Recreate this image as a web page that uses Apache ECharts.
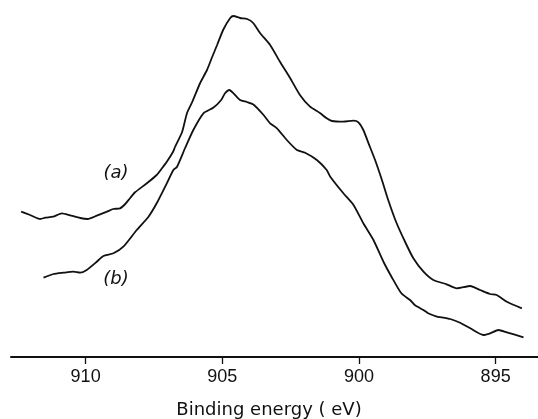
<!DOCTYPE html>
<html>
<head>
<meta charset="utf-8">
<script src="https://cdn.jsdelivr.net/npm/echarts@6/dist/echarts.min.js"></script>
<style>html,body{margin:0;padding:0;background:#fff}#c{width:538px;height:419px}</style>
</head>
<body>
<div id="c"></div>
<script>
// Binding energy (eV) and intensity (arbitrary units)
var energyA = [912.36,912.03,911.66,911.48,911.19,910.87,910.57,910.20,909.93,909.59,909.22,908.99,908.74,908.55,908.37,908.19,907.76,907.40,907.20,907.03,906.80,906.73,906.47,906.29,906.10,905.81,905.56,905.37,905.19,904.97,904.71,904.59,904.35,904.09,903.87,903.62,903.25,902.89,902.52,902.16,901.79,901.43,901.18,900.99,900.57,900.20,900.02,899.84,899.65,899.41,899.16,898.93,898.64,898.31,898.01,897.64,897.28,896.79,896.42,895.93,895.57,895.20,894.96,894.59,894.04];
var intensityA = [145.3,142,138,139.3,140.3,143.7,141.7,139,138,141.3,145.3,148,148.7,153,159,164.7,173.7,182,189,195.3,205.3,210,225,244,255,274,287,300,312,327,339,341,339,338,334,324,312,295.3,279,262,250.3,244,238.7,236,235.3,236.3,234.7,227,213.7,197,177,157,135,115,98.7,85.3,77,72.7,68.7,71,67,63,62,55.3,48.7];
var energyB = [911.54,911.18,910.81,910.45,910.20,909.96,909.59,909.35,908.98,908.62,908.13,907.70,907.40,907.03,906.79,906.66,906.36,906.06,905.69,905.32,905.04,904.90,904.74,904.59,904.35,904.10,903.86,903.49,903.25,903.00,902.64,902.27,901.97,901.54,901.18,901.05,900.57,900.20,899.84,899.47,899.10,898.81,898.45,898.13,897.96,897.64,897.47,897.15,896.98,896.66,896.30,895.93,895.45,895.20,894.90,894.59,893.98];
var intensityB = [79.3,83,84.3,85.3,84.3,87,95.3,101,103.7,110.3,127,140.3,153.7,173.7,187,190,209,227,243.7,249.5,257,263.7,267,263.7,257,255,252.5,242,233.7,228.7,217,207,204.3,197,187,180.3,163.7,152,133.7,117,95,80.3,63.7,57,52,47,43.7,40.3,39.7,38,34.3,28.7,22,23.7,27,24.7,19.7];
var tickValues = [910, 905, 900, 895];
var axisTitle = 'Binding energy ( eV)';
var curveLabels = ['(a)', '(b)'];

function pairs(xs, ys) { return xs.map(function (x, i) { return [x, ys[i]]; }); }

var chart = echarts.init(document.getElementById('c'), null, {renderer: 'canvas'});
chart.setOption({
  animation: false,
  backgroundColor: '#fff',
  grid: {left: 11, right: 0, top: 0, bottom: 62},
  xAxis: {
    type: 'value', min: 893.45, max: 912.73, inverse: true,
    axisLine: {show: true, lineStyle: {color: '#111', width: 2}},
    axisTick: {show: true, inside: false, length: 7, lineStyle: {color: '#111', width: 1.3}, customValues: tickValues},
    axisLabel: {show: true, color: '#111', fontFamily: 'Liberation Sans', fontSize: 18, margin: 11, customValues: tickValues},
    splitLine: {show: false}
  },
  yAxis: {type: 'value', min: 0, max: 357, show: false, splitLine: {show: false}},
  series: [
    {type: 'line', data: pairs(energyA, intensityA), symbol: 'none', smooth: 0.2,
     lineStyle: {color: '#111', width: 1.8}},
    {type: 'line', data: pairs(energyB, intensityB), symbol: 'none', smooth: 0.2,
     lineStyle: {color: '#111', width: 1.8}}
  ],
  graphic: [
    {type: 'text', left: 'center', x: 0, style: {text: axisTitle, x: 259, y: 410, align: 'center', verticalAlign: 'middle', fill: '#111', font: '18px "DejaVu Sans"'}},
    {type: 'text', style: {text: curveLabels[0], x: 116, y: 173, align: 'center', verticalAlign: 'middle', fill: '#111', font: 'italic 18px "DejaVu Sans"'}},
    {type: 'text', style: {text: curveLabels[1], x: 116, y: 279, align: 'center', verticalAlign: 'middle', fill: '#111', font: 'italic 18px "DejaVu Sans"'}}
  ]
});
</script>
</body>
</html>
